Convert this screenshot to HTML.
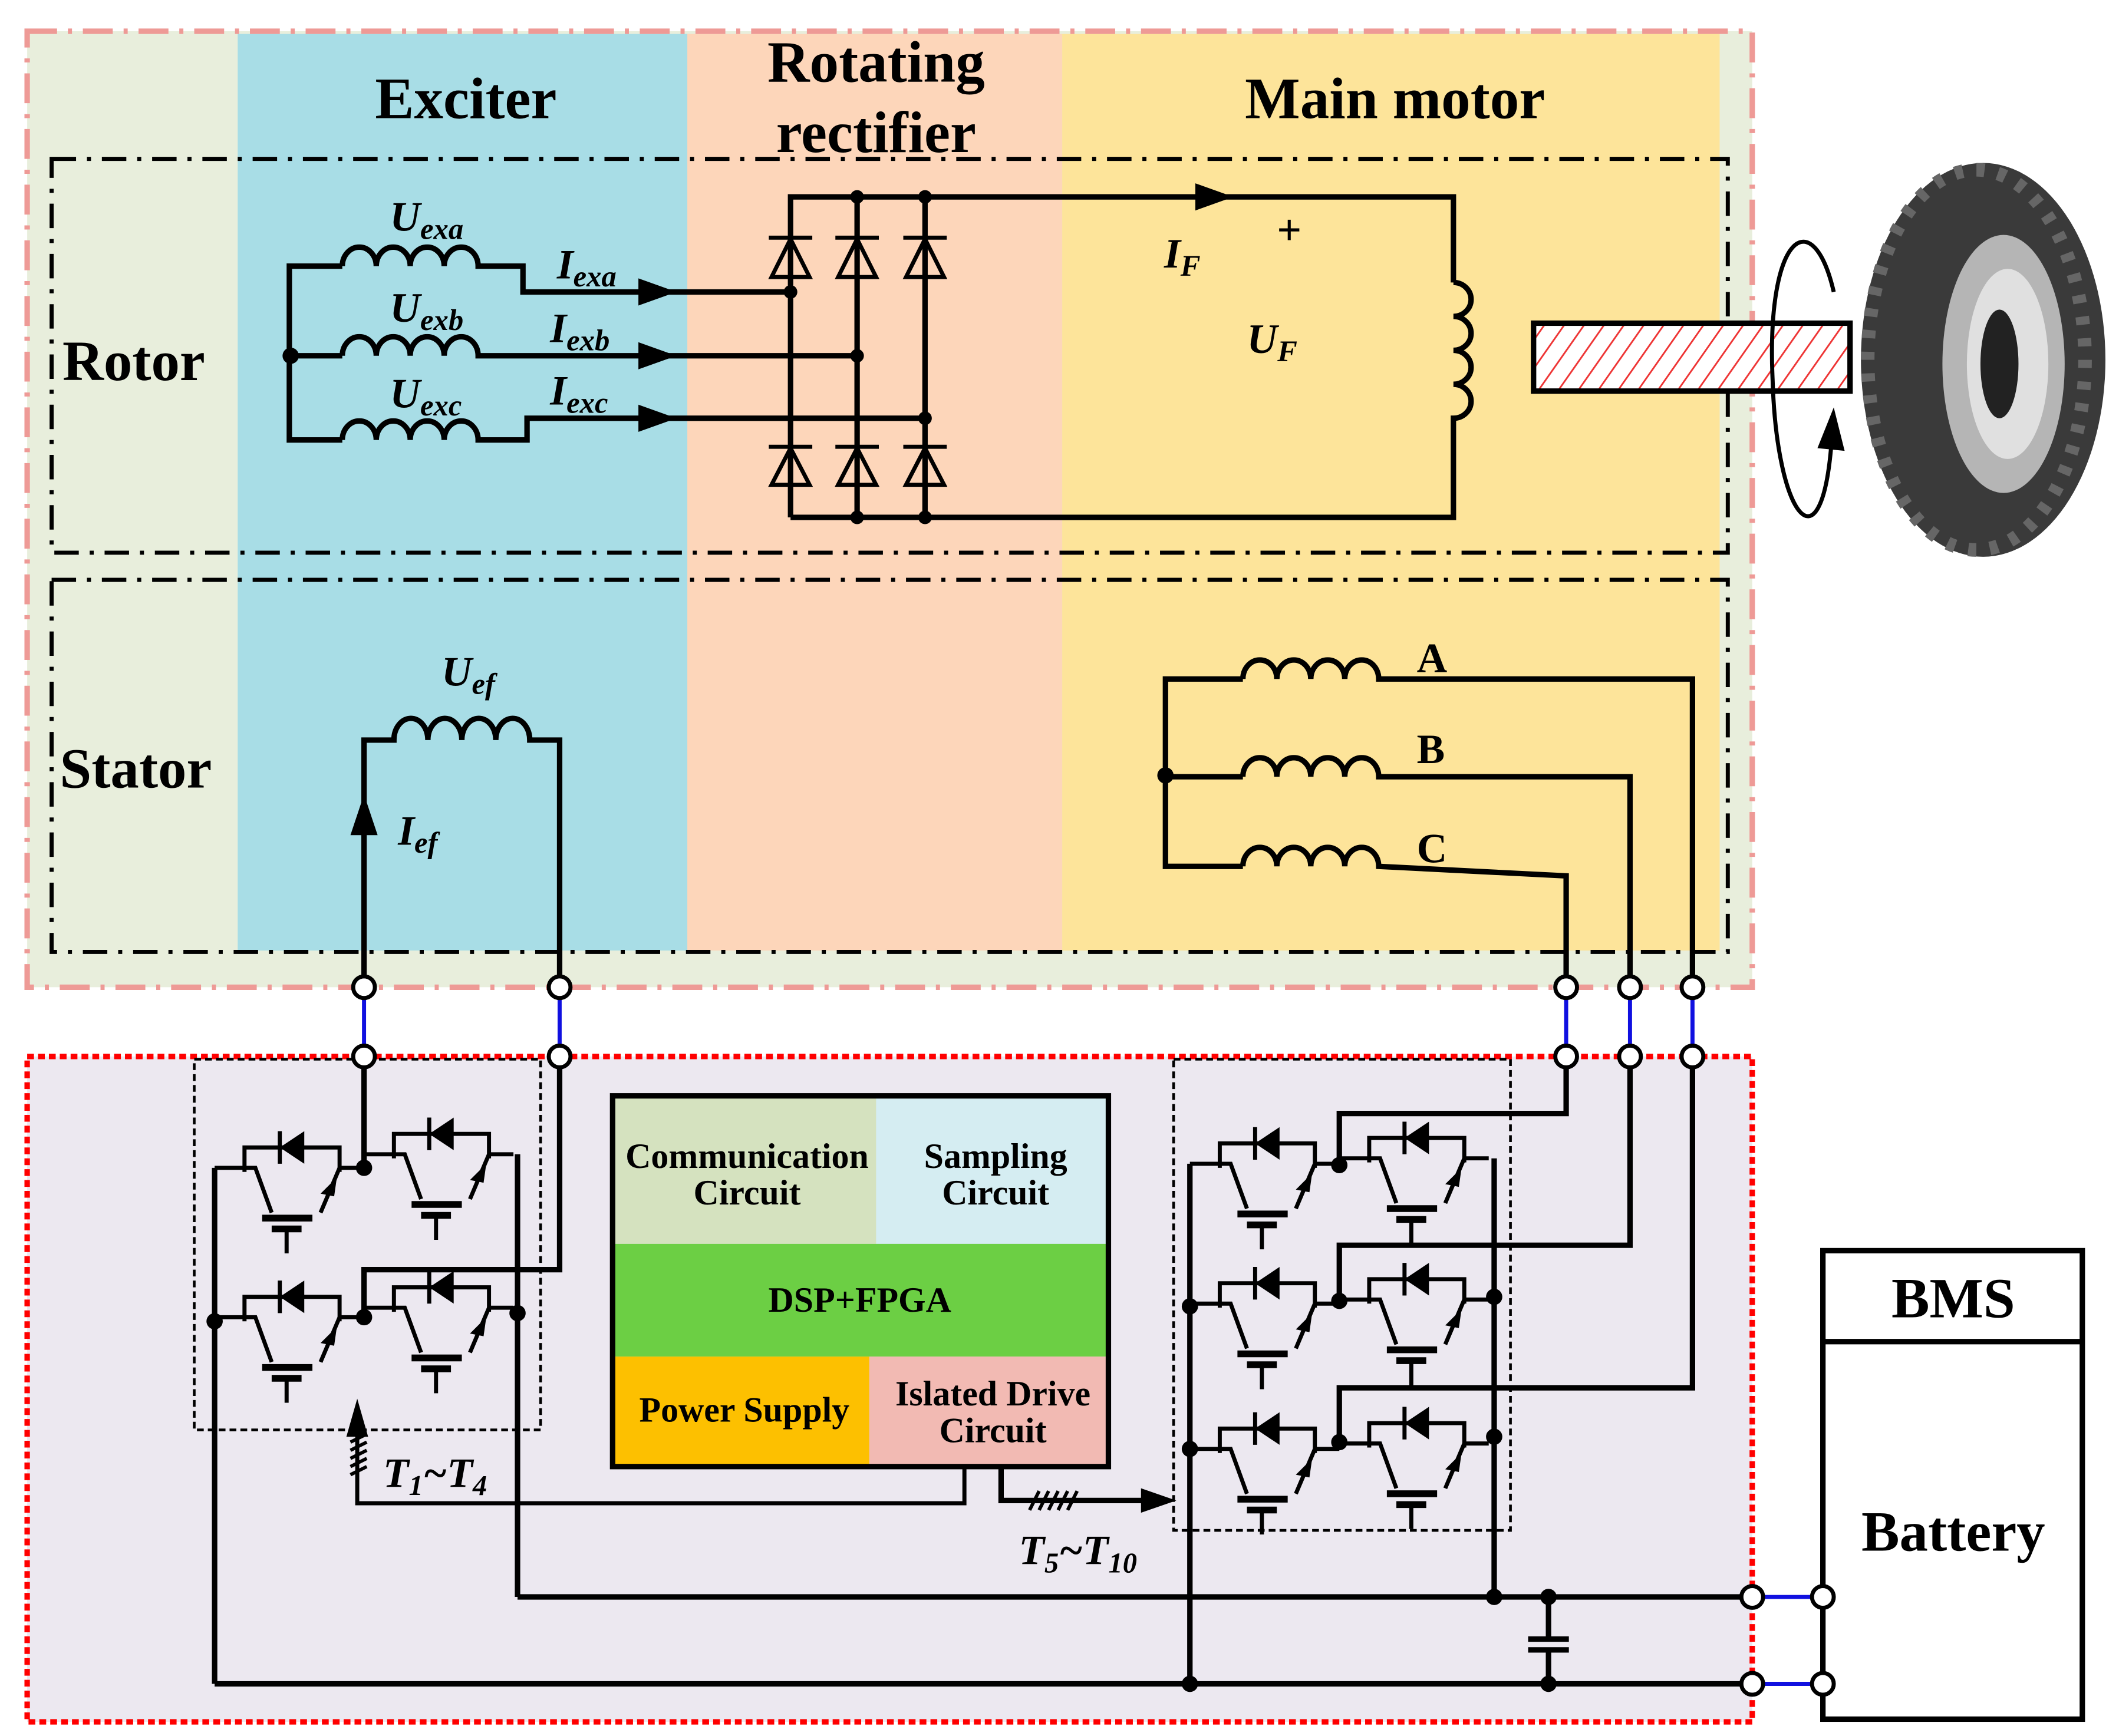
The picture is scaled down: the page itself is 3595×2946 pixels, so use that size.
<!DOCTYPE html>
<html><head><meta charset="utf-8"><style>
html,body{margin:0;padding:0;background:#fff;}
svg{display:block;}
text{font-family:"Liberation Serif",serif;font-weight:bold;fill:#000;}
.w{stroke:#000;stroke-width:4;fill:none;}
.t{stroke:#000;stroke-width:3;fill:none;}
</style></head><body>
<svg width="3595" height="2946" viewBox="0 0 1560 1278.4" preserveAspectRatio="none" xmlns="http://www.w3.org/2000/svg">
<defs>
<pattern id="hatch" width="12" height="12" patternUnits="userSpaceOnUse" patternTransform="rotate(35)">
<rect width="12" height="12" fill="#fff"/><line x1="0" y1="0" x2="0" y2="12" stroke="#e33" stroke-width="2.5"/></pattern>
<g id="igbt">
<polyline class="t" points="22,18 22,0 92,0 92,18"/>
<line x1="48" y1="-12" x2="48" y2="12" stroke="#000" stroke-width="3"/>
<polygon points="48,0 66,-12 66,12" fill="#000"/>
<polyline class="t" points="0,15 30,15 42,48"/>
<polyline class="t" points="92,15 110,15"/>
<line x1="92" y1="15" x2="78" y2="48" stroke="#000" stroke-width="3"/>
<polygon points="90,22 78,34 88,36" fill="#000"/>
<line x1="35" y1="52" x2="72" y2="52" stroke="#000" stroke-width="5"/>
<line x1="42" y1="60" x2="64" y2="60" stroke="#000" stroke-width="5"/>
<line x1="53" y1="60" x2="53" y2="78" stroke="#000" stroke-width="3"/>
</g>
</defs>
<rect width="1560" height="1278.4" fill="#fff"/>
<rect x="20" y="23" width="1270" height="704" fill="#e8eedc"/>
<rect x="175" y="25" width="333" height="675" fill="#a8dde6"/>
<rect x="506" y="25" width="276" height="675" fill="#fdd6ba"/>
<rect x="782" y="25" width="484" height="675" fill="#fde49a"/>
<rect x="20" y="23" width="1270" height="704" fill="none" stroke="#ee9a96" stroke-width="4" stroke-dasharray="22,8,3,8"/>
<rect x="38" y="117" width="1234" height="290" fill="none" stroke="#000" stroke-width="3" stroke-dasharray="18,8,3,8"/>
<rect x="38" y="427" width="1234" height="274" fill="none" stroke="#000" stroke-width="3" stroke-dasharray="18,8,3,8"/>
<text x="343" y="87" font-size="43" text-anchor="middle">Exciter</text>
<text x="645" y="60" font-size="43" text-anchor="middle">Rotating</text>
<text x="645" y="112" font-size="43" text-anchor="middle">rectifier</text>
<text x="1027" y="87" font-size="43" text-anchor="middle">Main motor</text>
<text x="46" y="280" font-size="42">Rotor</text>
<text x="44" y="580" font-size="42">Stator</text>

<polyline class="w" points="252,196 213,196 213,324 252,324"/>
<line x1="213" y1="262" x2="252" y2="262" class="w"/>
<circle cx="214" cy="262" r="6"/>
<path class="w" d="M252,196 a12.5,14 0 0 1 25,0 a12.5,14 0 0 1 25,0 a12.5,14 0 0 1 25,0 a12.5,14 0 0 1 25,0 L385,196 L385,215 L580,215"/>
<path class="w" d="M252,262 a12.5,14 0 0 1 25,0 a12.5,14 0 0 1 25,0 a12.5,14 0 0 1 25,0 a12.5,14 0 0 1 25,0 L630,262"/>
<path class="w" d="M252,324 a12.5,14 0 0 1 25,0 a12.5,14 0 0 1 25,0 a12.5,14 0 0 1 25,0 a12.5,14 0 0 1 25,0 L388,324 L388,308 L681,308"/>
<polygon points="470,205 498,215 470,225" fill="#000"/>
<polygon points="470,252 498,262 470,272" fill="#000"/>
<polygon points="470,298 498,308 470,318" fill="#000"/>
<text x="287" y="170" font-size="31" font-style="italic">U<tspan font-size="22" dy="6">exa</tspan></text>
<text x="410" y="205" font-size="31" font-style="italic">I<tspan font-size="22" dy="6">exa</tspan></text>
<text x="287" y="237" font-size="31" font-style="italic">U<tspan font-size="22" dy="6">exb</tspan></text>
<text x="405" y="252" font-size="31" font-style="italic">I<tspan font-size="22" dy="6">exb</tspan></text>
<text x="287" y="300" font-size="31" font-style="italic">U<tspan font-size="22" dy="6">exc</tspan></text>
<text x="405" y="298" font-size="31" font-style="italic">I<tspan font-size="22" dy="6">exc</tspan></text>

<polyline class="w" points="582,381 582,145 1070,145 1070,208"/>
<path class="w" d="M1070,208 a13,12.5 0 0 1 0,25 a13,12.5 0 0 1 0,25 a13,12.5 0 0 1 0,25 a13,12.5 0 0 1 0,25 L1070,381 L582,381"/>
<line class="w" x1="631" y1="145" x2="631" y2="381"/>
<line class="w" x1="681" y1="145" x2="681" y2="381"/>
<g fill="none" stroke="#000" stroke-width="3">
<polygon points="582,176 568,204 596,204"/><line x1="566" y1="175" x2="598" y2="175"/>
<polygon points="631,176 617,204 645,204"/><line x1="615" y1="175" x2="647" y2="175"/>
<polygon points="681,176 667,204 695,204"/><line x1="665" y1="175" x2="697" y2="175"/>
<polygon points="582,330 568,357 596,357"/><line x1="566" y1="329" x2="598" y2="329"/>
<polygon points="631,330 617,357 645,357"/><line x1="615" y1="329" x2="647" y2="329"/>
<polygon points="681,330 667,357 695,357"/><line x1="665" y1="329" x2="697" y2="329"/>
</g>
<circle cx="582" cy="215" r="5"/><circle cx="631" cy="262" r="5"/><circle cx="681" cy="308" r="5"/>
<circle cx="631" cy="145" r="5"/><circle cx="681" cy="145" r="5"/>
<circle cx="631" cy="381" r="5"/><circle cx="681" cy="381" r="5"/>
<polygon points="880,135 908,145 880,155" fill="#000"/>
<text x="857" y="197" font-size="31" font-style="italic">I<tspan font-size="22" dy="6">F</tspan></text>
<text x="940" y="180" font-size="32">+</text>
<text x="918" y="260" font-size="31" font-style="italic">U<tspan font-size="22" dy="6">F</tspan></text>

<ellipse cx="1460" cy="265" rx="90" ry="145" fill="#3a3a3a"/>
<ellipse cx="1455" cy="265" rx="80" ry="140" fill="none" stroke="#666" stroke-width="10" stroke-dasharray="6,10"/>
<ellipse cx="1475" cy="268" rx="45" ry="95" fill="#b5b5b5"/>
<ellipse cx="1478" cy="268" rx="30" ry="70" fill="#e0e0e0"/>
<ellipse cx="1472" cy="268" rx="14" ry="40" fill="#222"/>
<rect x="1129" y="238" width="233" height="50" fill="url(#hatch)" stroke="#000" stroke-width="4"/>
<path d="M1350,215 C1335,150 1300,170 1305,280 C1308,380 1340,420 1348,330" fill="none" stroke="#000" stroke-width="3"/>
<polygon points="1338,330 1350,300 1358,332" fill="#000"/>

<path class="w" d="M268,727 L268,545 L290,545 a12.5,16 0 0 1 25,0 a12.5,16 0 0 1 25,0 a12.5,16 0 0 1 25,0 a12.5,16 0 0 1 25,0 L412,545 L412,727"/>
<polygon points="258,615 268,585 278,615" fill="#000"/>
<text x="325" y="505" font-size="31" font-style="italic">U<tspan font-size="22" dy="6">ef</tspan></text>
<text x="293" y="622" font-size="31" font-style="italic">I<tspan font-size="22" dy="6">ef</tspan></text>

<polyline class="w" points="915,500 858,500 858,638 915,638"/>
<line class="w" x1="858" y1="572" x2="915" y2="572"/>
<circle cx="858" cy="571" r="6"/>
<path class="w" d="M915,500 a12.5,14 0 0 1 25,0 a12.5,14 0 0 1 25,0 a12.5,14 0 0 1 25,0 a12.5,14 0 0 1 25,0 L1246,500 L1246,727"/>
<path class="w" d="M915,572 a12.5,14 0 0 1 25,0 a12.5,14 0 0 1 25,0 a12.5,14 0 0 1 25,0 a12.5,14 0 0 1 25,0 L1200,572 L1200,727"/>
<path class="w" d="M915,638 a12.5,14 0 0 1 25,0 a12.5,14 0 0 1 25,0 a12.5,14 0 0 1 25,0 a12.5,14 0 0 1 25,0 L1153,645 L1153,727"/>
<text x="1043" y="495" font-size="31">A</text>
<text x="1043" y="562" font-size="31">B</text>
<text x="1043" y="635" font-size="31">C</text>

<rect x="20" y="778" width="1270" height="490" fill="#ece8f0" stroke="#f00" stroke-width="4" stroke-dasharray="5,3"/>
<rect x="143" y="780" width="255" height="273" fill="none" stroke="#000" stroke-width="2" stroke-dasharray="5,3"/>
<rect x="864" y="780" width="248" height="347" fill="none" stroke="#000" stroke-width="2" stroke-dasharray="5,3"/>

<g stroke="#1010e0" stroke-width="3">
<line x1="268" y1="727" x2="268" y2="778"/><line x1="412" y1="727" x2="412" y2="778"/>
<line x1="1153" y1="727" x2="1153" y2="778"/><line x1="1200" y1="727" x2="1200" y2="778"/><line x1="1246" y1="727" x2="1246" y2="778"/>
<line x1="1290" y1="1176" x2="1342" y2="1176"/><line x1="1290" y1="1240" x2="1342" y2="1240"/>
</g>

<use href="#igbt" transform="translate(158,845)"/>
<use href="#igbt" transform="translate(268,835)"/>
<use href="#igbt" transform="translate(158,955)"/>
<use href="#igbt" transform="translate(268,948)"/>
<line class="w" x1="268" y1="778" x2="268" y2="860"/>
<polyline class="w" points="268,970 268,935 412,935 412,778"/>
<line class="w" x1="381" y1="850" x2="381" y2="1176"/>
<line class="w" x1="158" y1="860" x2="158" y2="1240"/>
<circle cx="268" cy="860" r="6"/><circle cx="268" cy="970" r="6"/><circle cx="381" cy="967" r="6"/><circle cx="158" cy="973" r="6"/>

<use href="#igbt" transform="translate(876,842)"/>
<use href="#igbt" transform="translate(986,838)"/>
<use href="#igbt" transform="translate(876,945)"/>
<use href="#igbt" transform="translate(986,942)"/>
<use href="#igbt" transform="translate(876,1052)"/>
<use href="#igbt" transform="translate(986,1048)"/>
<polyline class="w" points="986,858 986,820 1153,820 1153,778"/>
<polyline class="w" points="986,958 986,917 1200,917 1200,778"/>
<polyline class="w" points="986,1062 986,1022 1246,1022 1246,778"/>
<line class="w" x1="876" y1="857" x2="876" y2="1240"/>
<line class="w" x1="1100" y1="853" x2="1100" y2="1176"/>
<circle cx="986" cy="858" r="6"/><circle cx="986" cy="958" r="6"/><circle cx="986" cy="1062" r="6"/>
<circle cx="876" cy="962" r="6"/><circle cx="876" cy="1067" r="6"/>
<circle cx="1100" cy="955" r="6"/><circle cx="1100" cy="1058" r="6"/>

<line class="w" x1="381" y1="1176" x2="1290" y2="1176"/>
<line class="w" x1="158" y1="1240" x2="1290" y2="1240"/>
<line class="w" x1="1140" y1="1176" x2="1140" y2="1207"/>
<line class="w" x1="1140" y1="1215" x2="1140" y2="1240"/>
<line x1="1125" y1="1207" x2="1155" y2="1207" stroke="#000" stroke-width="4"/>
<line x1="1125" y1="1215" x2="1155" y2="1215" stroke="#000" stroke-width="4"/>
<circle cx="1100" cy="1176" r="6"/><circle cx="1140" cy="1176" r="6"/><circle cx="876" cy="1240" r="6"/><circle cx="1140" cy="1240" r="6"/>

<rect x="452" y="808" width="193" height="108" fill="#d5e2bf"/>
<rect x="645" y="808" width="170" height="108" fill="#d5edf2"/>
<rect x="452" y="916" width="363" height="83" fill="#6ccf44"/>
<rect x="452" y="999" width="188" height="80" fill="#fdc000"/>
<rect x="640" y="999" width="175" height="80" fill="#f2bab3"/>
<rect x="451" y="807" width="365" height="273" fill="none" stroke="#000" stroke-width="4"/>
<text x="550" y="860" font-size="26" text-anchor="middle">Communication</text>
<text x="550" y="887" font-size="26" text-anchor="middle">Circuit</text>
<text x="733" y="860" font-size="26" text-anchor="middle">Sampling</text>
<text x="733" y="887" font-size="26" text-anchor="middle">Circuit</text>
<text x="633" y="966" font-size="26" text-anchor="middle">DSP+FPGA</text>
<text x="548" y="1047" font-size="26" text-anchor="middle">Power Supply</text>
<text x="731" y="1035" font-size="26" text-anchor="middle">Islated Drive</text>
<text x="731" y="1062" font-size="26" text-anchor="middle">Circuit</text>

<polyline class="t" points="710,1080 710,1107 263,1107 263,1055"/>
<polygon points="255,1058 263,1030 271,1058" fill="#000"/>
<g stroke="#000" stroke-width="2.5">
<line x1="258" y1="1062" x2="270" y2="1056"/><line x1="258" y1="1068" x2="270" y2="1062"/><line x1="258" y1="1074" x2="270" y2="1068"/><line x1="258" y1="1080" x2="270" y2="1074"/><line x1="258" y1="1086" x2="270" y2="1080"/>
</g>
<polyline class="w" points="737,1080 737,1105 842,1105"/>
<polygon points="840,1096 866,1105 840,1114" fill="#000"/>
<g stroke="#000" stroke-width="2.5">
<line x1="758" y1="1112" x2="765" y2="1098"/><line x1="765" y1="1112" x2="772" y2="1098"/><line x1="772" y1="1112" x2="779" y2="1098"/><line x1="779" y1="1112" x2="786" y2="1098"/><line x1="786" y1="1112" x2="793" y2="1098"/>
</g>
<text x="282" y="1095" font-size="31" font-style="italic">T<tspan font-size="21" dy="6">1</tspan><tspan dy="-6">~T</tspan><tspan font-size="21" dy="6">4</tspan></text>
<text x="750" y="1152" font-size="31" font-style="italic">T<tspan font-size="21" dy="6">5</tspan><tspan dy="-6">~T</tspan><tspan font-size="21" dy="6">10</tspan></text>

<rect x="1342" y="921" width="191" height="345" fill="#fff" stroke="#000" stroke-width="4"/>
<line x1="1342" y1="988" x2="1533" y2="988" stroke="#000" stroke-width="4"/>
<text x="1438" y="970" font-size="42" text-anchor="middle">BMS</text>
<text x="1438" y="1142" font-size="42" text-anchor="middle">Battery</text>

<g fill="#fff" stroke="#000" stroke-width="3">
<circle cx="268" cy="727" r="8"/><circle cx="412" cy="727" r="8"/><circle cx="1153" cy="727" r="8"/><circle cx="1200" cy="727" r="8"/><circle cx="1246" cy="727" r="8"/>
<circle cx="268" cy="778" r="8"/><circle cx="412" cy="778" r="8"/><circle cx="1153" cy="778" r="8"/><circle cx="1200" cy="778" r="8"/><circle cx="1246" cy="778" r="8"/>
<circle cx="1290" cy="1176" r="8"/><circle cx="1342" cy="1176" r="8"/><circle cx="1290" cy="1240" r="8"/><circle cx="1342" cy="1240" r="8"/>
</g>
</svg>
</body></html>
